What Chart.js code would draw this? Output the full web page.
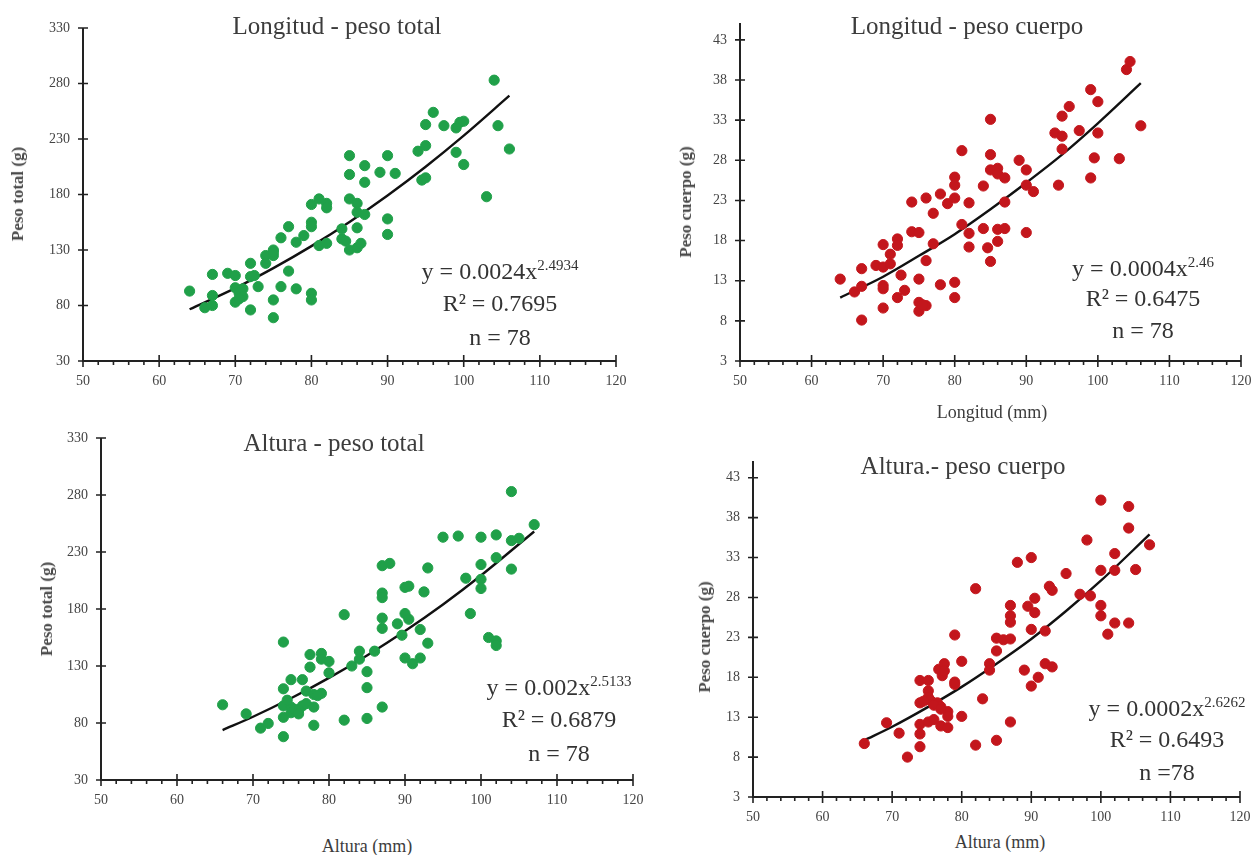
<!DOCTYPE html>
<html lang="es">
<head>
<meta charset="UTF-8">
<title>Longitud / Altura - peso</title>
<style>
  body { margin: 0; width: 1254px; height: 855px; background: #fff; position: relative; overflow: hidden;
         font-family: "Liberation Serif", "DejaVu Serif", serif; }
  canvas { position: absolute; }
  .t { position: absolute; transform: translate(-50%, -50%); white-space: nowrap; pointer-events: none; }
  .title { font-size: 25px; color: #3c3c3c; }
  .ytitle { font-size: 17px; font-weight: bold; color: #4a4a4a; transform: translate(-50%, -50%) rotate(-90deg); }
  .xtitle { font-size: 18px; color: #3c3c3c; }
  .eq { font-size: 24px; color: #333; text-align: center; }
  .eq sup { font-size: 15px; vertical-align: 9px; }
</style>
</head>
<body>
<canvas id="c1"></canvas>
<canvas id="c2"></canvas>
<canvas id="c3"></canvas>
<canvas id="c4"></canvas>

<div class="t title" style="left:337px; top:26px;">Longitud - peso total</div>
<div class="t title" style="left:967px; top:26px;">Longitud - peso cuerpo</div>
<div class="t title" style="left:334px; top:443px;">Altura - peso total</div>
<div class="t title" style="left:963px; top:466px;">Altura.- peso cuerpo</div>

<div class="t ytitle" style="left:18px; top:194px;">Peso total (g)</div>
<div class="t ytitle" style="left:686px; top:202px;">Peso cuerpo (g)</div>
<div class="t ytitle" style="left:47px; top:609px;">Peso total (g)</div>
<div class="t ytitle" style="left:705px; top:637px;">Peso cuerpo (g)</div>

<div class="t xtitle" style="left:992px; top:412px;">Longitud (mm)</div>
<div class="t xtitle" style="left:367px; top:846px;">Altura (mm)</div>
<div class="t xtitle" style="left:1000px; top:842px;">Altura (mm)</div>

<div class="t eq" style="left:500px; top:271px;">y = 0.0024x<sup>2.4934</sup></div>
<div class="t eq" style="left:500px; top:303px;">R² = 0.7695</div>
<div class="t eq" style="left:500px; top:337px;">n = 78</div>

<div class="t eq" style="left:1143px; top:268px;">y = 0.0004x<sup>2.46</sup></div>
<div class="t eq" style="left:1143px; top:298px;">R² = 0.6475</div>
<div class="t eq" style="left:1143px; top:330px;">n = 78</div>

<div class="t eq" style="left:559px; top:687px;">y = 0.002x<sup>2.5133</sup></div>
<div class="t eq" style="left:559px; top:719px;">R² = 0.6879</div>
<div class="t eq" style="left:559px; top:753px;">n = 78</div>

<div class="t eq" style="left:1167px; top:708px;">y = 0.0002x<sup>2.6262</sup></div>
<div class="t eq" style="left:1167px; top:739px;">R² = 0.6493</div>
<div class="t eq" style="left:1167px; top:772px;">n =78</div>

<script src="https://cdn.jsdelivr.net/npm/chart.js"></script>
<script>
// ---- datos ----
const xTicks = [50, 60, 70, 80, 90, 100, 110, 120];
const yTicksTotal = [30, 80, 130, 180, 230, 280, 330];
const yTicksCuerpo = [3, 8, 13, 18, 23, 28, 33, 38, 43];

// Longitud - peso total
const lptX = [64,66,67,67,67,69,70,70,70,70.5,71,71,72,72,72,72.5,73,74,74,75,75,75,75,76,76,77,77,78,78,79,80,80,80,80,80,81,81,82,82,82,84,84,84.5,85,85,85,85,86,86,86,86,86.5,87,87,87,89,90,90,90,91,94,94.5,95,95,95,96,97.4,99,99,99.5,100,100,103,104,104.5,106,70.5,75];
const lptY = [93,78,108,89,80,109,107,96,83,91,95,88,118,106,76,107,97,125,118,130,125,85,69,141,97,151,111,137,95,143,171,155,151,91,85,176,134,172,168,136,149,140,138,215,198,176,130,172,150,132,164,136,206,191,162,200,215,158,144,199,219,193,243,224,195,254,242,240,218,245,246,207,178,283,242,221,86,128];
const lptTrendX = [64, 70, 75, 80, 85, 90, 95, 100, 106];
const lptTrendY = [76.6, 95.7, 113.7, 133.5, 155.3, 179.1, 205.0, 233.0, 269];

// Longitud - peso cuerpo
const lpcX = [64,66,67,67,67,69,70,70,70,70,70,71,71,72,72,72,72.5,73,74,74,75,75,75,75,76,76,76,77,77,78,78,79,80,80,80,80,80,81,81,82,82,82,84,84,84.6,85,85,85,85,86,86,86,86,87,87,87,89,90,90,90,91,94,94.5,95,95,95,96,97.4,99,99,99.5,100,100,103,104,104.5,106,75.5];
const lpcY = [13.2,11.6,12.3,14.5,8.1,14.9,17.5,14.7,12.4,12.0,9.6,15.1,16.3,18.2,17.4,10.9,13.7,11.8,22.8,19.1,19.0,13.2,10.3,9.2,23.3,15.5,9.9,21.4,17.6,23.8,12.5,22.6,25.9,24.9,23.3,12.8,10.9,29.2,20.0,22.7,18.9,17.2,24.8,19.5,17.1,33.1,28.7,26.8,15.4,27.0,26.3,19.4,17.9,25.8,22.8,19.5,28.0,26.8,24.9,19.0,24.1,31.4,24.9,33.5,31.0,29.4,34.7,31.7,36.8,25.8,28.3,35.3,31.4,28.2,39.3,40.3,32.3,10.0];
const lpcTrendX = [64, 70, 75, 80, 85, 90, 95, 100, 106];
const lpcTrendY = [10.9, 13.5, 16.1, 18.8, 21.9, 25.2, 28.7, 32.6, 37.6];

// Altura - peso total
const aptX = [66,69.1,71,72,74,74,74,74,74,75,75,75,75.5,76,76.5,76.5,77,77,77.5,77.5,78,78,78,79,79,79,80,80,82,82,83,84,84,85,85,85,86,87,87,87,87,87,87,88,89,89.6,90,90,90,90.5,90.5,91,92,92,92.5,93,93,95,97,98,98.6,100,100,100,100,101,102,102,102,102,104,104,104,105,107,74.5,76,78.5];
const aptY = [96,88,75.5,79.6,151,110,95,85,68,118,94,89,92,91,95,118,108,97,140,129,105,94,78,141,136,106,134,124,175,82.5,130,143,136,125,111,84,143,218,194,190,172,163,94,220,167,157,199,176,137,200,171,132,162,137,195,216,150,243,244,207,176,243,219,206,198,155,245,225,152,148,283,240,215,242,254,100,88,104];
const aptTrendX = [66, 70, 75, 80, 85, 90, 95, 100, 107];
const aptTrendY = [73.8, 85.5, 101.7, 119.6, 139.3, 160.7, 184, 209.4, 248];

// Altura - peso cuerpo
const apcX = [66,69.2,71,72.2,74,74,74,74,74,75.2,75.2,75.2,75.2,75.5,76,76.5,76.7,77,77,77.2,77.5,77.5,78,78,78,79,79,79,80,80,82,82,83,84,84,85,85,85,86,87,87,87,87,87,88,89,89.5,90,90,90,90.5,90.5,91,92,92,92.6,93,93,95,97,98,98.5,100,100,100,100,101,102,102,102,104,104,104,105,107,76,74.5,77];
const apcY = [9.7,12.3,11.0,8.0,17.6,14.8,12.1,10.9,9.3,17.6,16.3,15.5,12.4,15.1,12.7,14.8,19.0,14.3,11.9,18.2,19.7,18.8,13.7,13.1,11.7,23.3,17.4,17.1,20.0,13.1,29.1,9.5,15.3,19.7,18.9,22.9,21.3,10.1,22.7,27.0,25.7,24.9,22.8,12.4,32.4,18.9,26.9,33.0,24.0,16.9,27.9,26.1,18.0,23.8,19.7,29.4,28.9,19.3,31.0,28.4,35.2,28.2,40.2,31.4,27.0,25.7,23.4,33.5,31.4,24.8,39.4,36.7,24.8,31.5,34.6,14.5,15.0,14.0];
const apcTrendX = [66, 70, 75, 80, 85, 90, 95, 100, 107];
const apcTrendY = [10.1, 11.8, 14.2, 16.8, 19.7, 22.8, 26.3, 30.1, 35.9];

const GREEN = '#20a049';
const RED = '#c3161c';
const FONT = '"Liberation Serif", "DejaVu Serif", serif';

// ejes dibujados a mano: líneas, marcas que cruzan el eje y marcas menores en x
const axisLines = {
    id: 'axisLines',
    beforeDatasetsDraw(chart) {
        const { ctx, chartArea: a, scales: { x, y } } = chart;
        ctx.save();
        ctx.strokeStyle = '#222';
        ctx.lineWidth = 2;
        ctx.beginPath();
        ctx.moveTo(a.left, a.top);
        ctx.lineTo(a.left, a.bottom);
        ctx.lineTo(a.right, a.bottom);
        ctx.stroke();
        ctx.lineWidth = 1.6;
        ctx.beginPath();
        y.ticks.forEach(t => {
            const py = y.getPixelForValue(t.value);
            ctx.moveTo(a.left - 5, py); ctx.lineTo(a.left + 5, py);
        });
        x.ticks.forEach(t => {
            const px = x.getPixelForValue(t.value);
            ctx.moveTo(px, a.bottom - 6); ctx.lineTo(px, a.bottom + 6);
        });
        for (let v = x.min + 2; v < x.max; v += 2) {
            if (v % 10 === 0) continue;
            const px = x.getPixelForValue(v);
            ctx.moveTo(px, a.bottom); ctx.lineTo(px, a.bottom + 4);
        }
        ctx.stroke();
        ctx.restore();
    }
};

function toPoints(xs, ys) {
    return xs.map((v, i) => ({ x: v, y: ys[i] }));
}

// sin relleno extra de las escalas, para que el área del gráfico quede donde se pide
function noScalePadding(s) {
    s.paddingTop = 0; s.paddingBottom = 0; s.paddingLeft = 0; s.paddingRight = 0;
}

function makeChart(id, box, xs, ys, tx, ty, color, yTicks, yMax) {
    const padL = 60, padT = 10, padR = 16, padB = 34;
    const canvas = document.getElementById(id);
    canvas.width = box.R - box.L + padL + padR;
    canvas.height = box.B - box.T + padT + padB;
    canvas.style.left = (box.L - padL) + 'px';
    canvas.style.top = (box.T - padT) + 'px';

    return new Chart(canvas, {
        type: 'scatter',
        data: {
            datasets: [
                {
                    data: toPoints(xs, ys),
                    backgroundColor: color,
                    borderColor: color,
                    pointRadius: 5.1,
                    pointHoverRadius: 5.1
                },
                {
                    data: toPoints(tx, ty),
                    showLine: true,
                    borderColor: '#111',
                    borderWidth: 2.4,
                    pointRadius: 0,
                    cubicInterpolationMode: 'monotone'
                }
            ]
        },
        options: {
            responsive: false,
            animation: false,
            layout: { padding: { top: padT, right: padR, left: 0, bottom: 0 } },
            plugins: { legend: { display: false }, tooltip: { enabled: false } },
            scales: {
                x: {
                    type: 'linear', min: 50, max: 120,
                    afterFit: s => { s.height = padB; noScalePadding(s); },
                    afterBuildTicks: s => { s.ticks = xTicks.map(v => ({ value: v })); },
                    grid: { display: false, drawTicks: false },
                    border: { display: false },
                    ticks: { padding: 12, color: '#444', font: { family: FONT, size: 14 }, maxRotation: 0 }
                },
                y: {
                    type: 'linear', min: yTicks[0], max: yMax,
                    afterFit: s => { s.width = padL; noScalePadding(s); },
                    afterBuildTicks: s => { s.ticks = yTicks.map(v => ({ value: v })); },
                    grid: { display: false, drawTicks: false },
                    border: { display: false },
                    ticks: { padding: 13, color: '#444', font: { family: FONT, size: 14 } }
                }
            }
        },
        plugins: [axisLines]
    });
}

makeChart('c1', { L: 83, T: 28, R: 616, B: 361 }, lptX, lptY, lptTrendX, lptTrendY, GREEN, yTicksTotal, 330);
makeChart('c2', { L: 740, T: 23, R: 1241, B: 361 }, lpcX, lpcY, lpcTrendX, lpcTrendY, RED, yTicksCuerpo, 45.1);
makeChart('c3', { L: 101, T: 438, R: 633, B: 780 }, aptX, aptY, aptTrendX, aptTrendY, GREEN, yTicksTotal, 330);
makeChart('c4', { L: 753, T: 461, R: 1240, B: 797 }, apcX, apcY, apcTrendX, apcTrendY, RED, yTicksCuerpo, 45.1);
</script>
</body>
</html>
